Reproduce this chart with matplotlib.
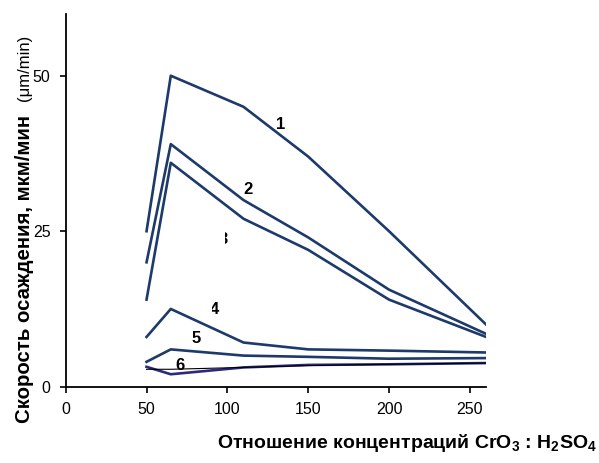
import matplotlib.pyplot as plt
from matplotlib.transforms import Bbox, TransformedBbox

plt.rcParams['font.family'] = ['Liberation Sans', 'DejaVu Sans']
plt.rcParams['mathtext.fontset'] = 'custom'
plt.rcParams['mathtext.rm'] = 'Liberation Sans:bold'
plt.rcParams['mathtext.it'] = 'Liberation Sans:bold'
plt.rcParams['mathtext.bf'] = 'Liberation Sans:bold'

# CrO3 : H2SO4 ratio
ratio = [50, 65, 110, 150, 200, 260]

# deposition rate, um/min
rate_1 = [25, 50, 45, 37, 25, 10]
rate_2 = [20, 39, 30, 24, 15.6, 8.5]
rate_3 = [14, 36, 27, 22, 14, 8]
rate_4 = [8, 12.5, 7.1, 6.0, 5.8, 5.5]
rate_5 = [4.0, 6.0, 5.0, 4.8, 4.5, 4.6]
rate_6 = [3.2, 2.0, 3.1, 3.5, 3.6, 3.8]
rate_6b = [2.8, 2.8, 3.1, 3.4, 3.6, 3.8]

navy = '#1d3a6b'

fig = plt.figure(figsize=(5.99, 4.63), dpi=100)
ax = fig.add_axes([0.1097, 0.1648, 0.7017, 0.806])

for r in [rate_1, rate_2, rate_3, rate_4, rate_5]:
    ax.plot(ratio, r, color=navy, lw=1.9)
ax.plot(ratio, rate_6, color='#2a2a7e', lw=1.9)
ax.plot(ratio, rate_6b, color='black', lw=0.8)

ax.set_xlim(0, 260)
ax.set_ylim(0, 60)
ax.set_xticks([0, 50, 100, 150, 200, 250])
ax.set_yticks([0, 25, 50])
ax.spines['top'].set_visible(False)
ax.spines['right'].set_visible(False)
for s in ['left', 'bottom']:
    ax.spines[s].set_linewidth(1.3)
ax.tick_params(direction='out', length=4, width=1.2, labelsize=11.5, pad=7)

# curve numbers (3 and 4 are partly hidden)
lab = dict(fontsize=12, fontweight='bold', ha='center', va='center')
ax.text(133, 42.2, '1', **lab)
ax.text(113, 31.7, '2', **lab)
t3 = ax.text(97.6, 23.7, '3', clip_on=True, **lab)
t3.set_clip_box(TransformedBbox(Bbox([[98.6, 0], [260, 60]]), ax.transData))
t4 = ax.text(91.8, 12.4, '4', clip_on=True, **lab)
t4.set_clip_box(TransformedBbox(Bbox([[90.4, 0], [260, 60]]), ax.transData))
ax.text(81, 7.8, '5', **lab)
ax.text(71, 3.4, '6', **lab)

fig.text(0.041, 0.42, 'Скорость осаждения, мкм/мин', rotation=90,
         fontsize=14.7, fontweight='bold', ha='center', va='center')
fig.text(0.041, 0.854, '(μm/min)', rotation=90, fontsize=12,
         ha='center', va='center')
fig.text(0.997, 0.043, 'Отношение концентраций CrO$_3$ : H$_2$SO$_4$',
         fontsize=14, fontweight='bold', ha='right', va='center')

plt.savefig('out.png', dpi=100)
